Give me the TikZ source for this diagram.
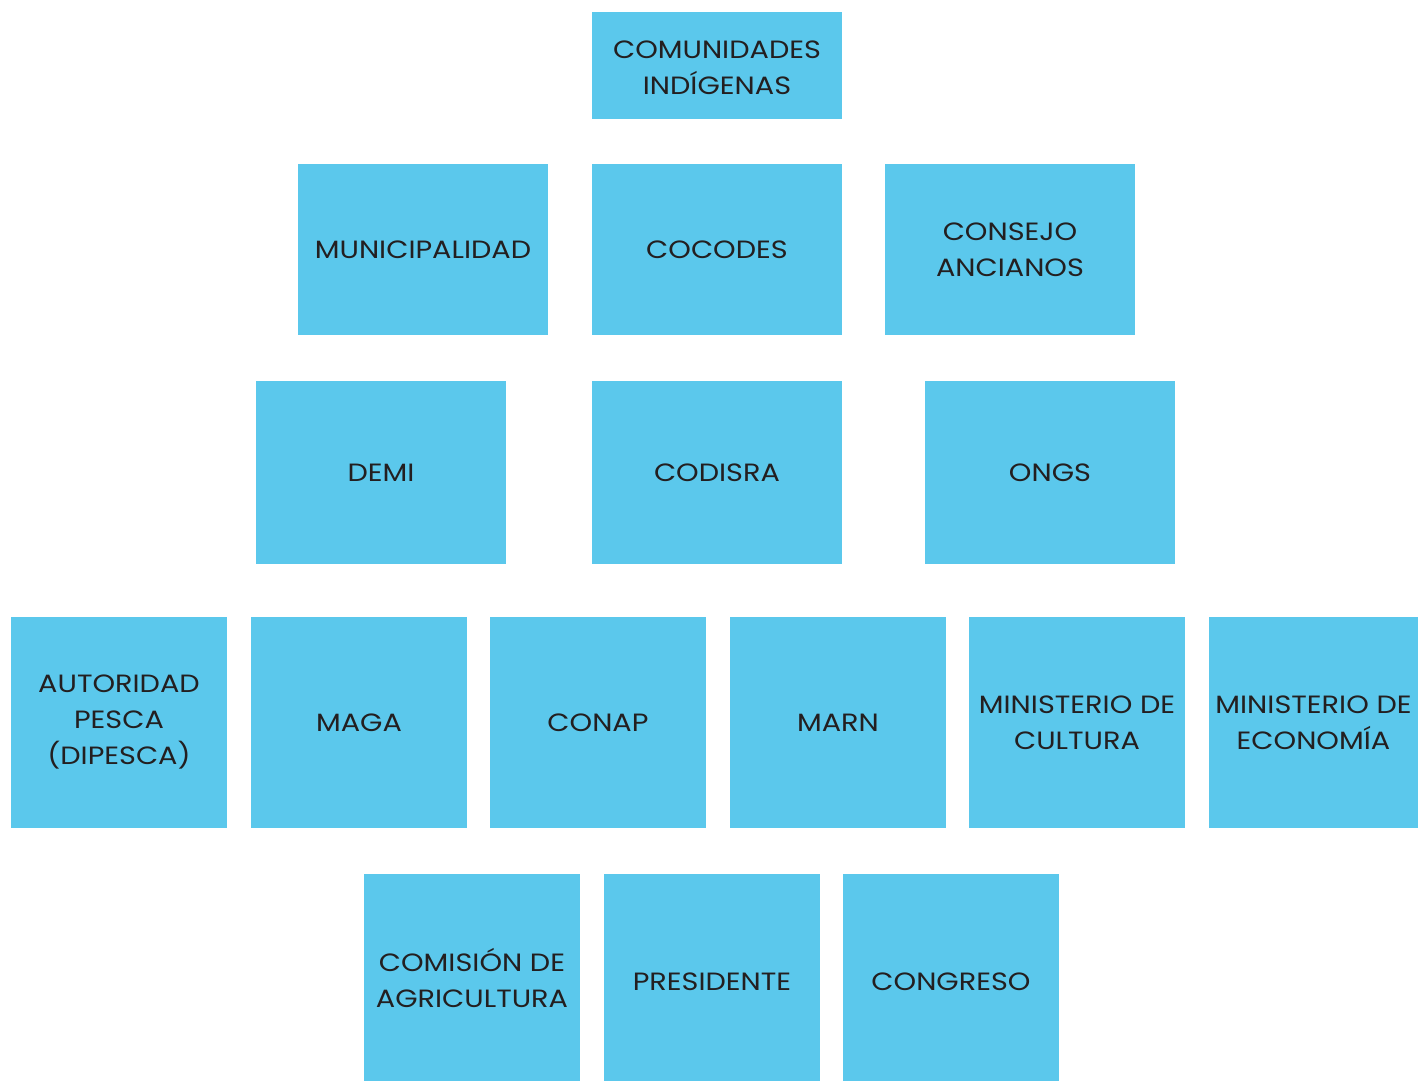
\documentclass[tikz,border=0pt]{standalone}
\usepackage{fontspec}
\setmainfont{Poppins}[FakeStretch=1.15]
\definecolor{boxblue}{HTML}{5BC8EC}
\definecolor{ink}{HTML}{231F20}
\newcommand{\lowerby}[2]{\raisebox{-#1}[\height][\depth]{#2}}
\tikzset{
  box/.style={fill=boxblue, draw=none, inner sep=0pt, text=ink, align=center,
    minimum width=#1, font=\fontsize{25}{36}\selectfont},
  box/.default=216pt
}
\begin{document}
\begin{tikzpicture}[x=1pt,y=-1pt]
\useasboundingbox (0,0) rectangle (1418,1081);
% row 1
\node[box=250pt, minimum height=107pt] (ci) at (717,65.5) {\lowerby{2pt}{COMUNIDADES}\\\lowerby{2pt}{INDÍGENAS}};
% row 2
\node[box=250pt, minimum height=171pt] (mun) at (423,249.5) {MUNICIPALIDAD};
\node[box=250pt, minimum height=171pt] (coc) at (717,249.5) {COCODES};
\node[box=250pt, minimum height=171pt] (con) at (1010,249.5) {CONSEJO\\ANCIANOS};
% row 3
\node[box=250pt, minimum height=183pt] (demi) at (381,472.5) {DEMI};
\node[box=250pt, minimum height=183pt] (codi) at (717,472.5) {CODISRA};
\node[box=250pt, minimum height=183pt] (ongs) at (1050,472.5) {ONGS};
% row 4
\node[box, minimum height=211pt] (aut) at (119,722.5) {AUTORIDAD\\PESCA\\(DIPESCA)};
\node[box, minimum height=211pt] (maga) at (359,722.5) {MAGA};
\node[box, minimum height=211pt] (conap) at (598,722.5) {CONAP};
\node[box, minimum height=211pt] (marn) at (838,722.5) {MARN};
\node[box, minimum height=211pt] (mcul) at (1077,722.5) {MINISTERIO DE\\CULTURA};
\node[box=209pt, minimum height=211pt] (meco) at (1313.5,722.5) {MINISTERIO DE\\ECONOMÍA};
% row 5
\node[box, minimum height=207pt] (com) at (472,977.5) {COMISIÓN DE\\AGRICULTURA};
\node[box, minimum height=207pt] (pres) at (712,977.5) {\lowerby{4pt}{PRESIDENTE}};
\node[box, minimum height=207pt] (cong) at (951,977.5) {\lowerby{4pt}{CONGRESO}};
\end{tikzpicture}
\end{document}
